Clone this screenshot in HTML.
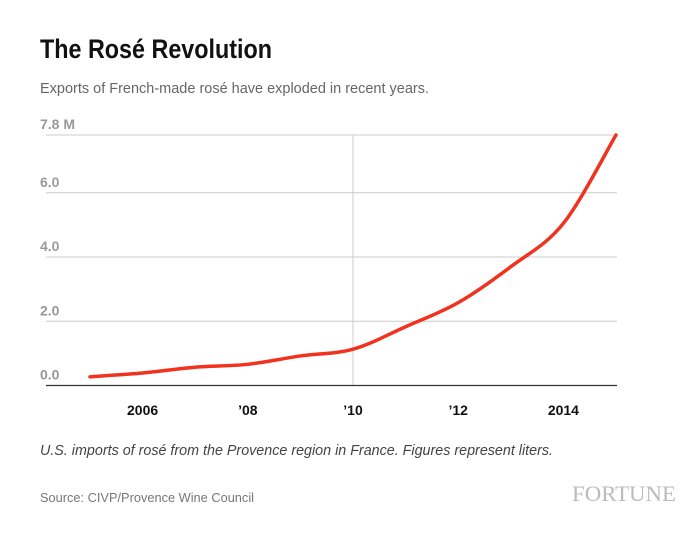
<!DOCTYPE html>
<html><head><meta charset="utf-8"><style>
html,body{margin:0;padding:0;background:#fff;}
svg{display:block;font-family:"Liberation Sans",sans-serif;}
</style></head><body>
<svg id="chart" width="700" height="536" viewBox="0 0 700 536">
<text x="40" y="58" font-size="27" font-weight="bold" fill="#111" textLength="232" lengthAdjust="spacingAndGlyphs" font-family="'Liberation Sans Narrow','Liberation Sans',sans-serif">The Rosé Revolution</text>
<text x="40" y="93" font-size="14.5" fill="#666" textLength="389" lengthAdjust="spacingAndGlyphs">Exports of French-made rosé have exploded in recent years.</text>
<g id="grid"></g>
<g id="yaxis"></g>
<g id="xaxis"></g>
<path id="line" fill="none" stroke="#f0321e" stroke-width="3.5" stroke-linecap="round"/>
<text x="40" y="455" font-size="14.5" font-style="italic" fill="#444" textLength="513" lengthAdjust="spacingAndGlyphs">U.S. imports of rosé from the Provence region in France. Figures represent liters.</text>
<text x="40" y="502" font-size="13" fill="#777" textLength="214" lengthAdjust="spacingAndGlyphs">Source: CIVP/Provence Wine Council</text>
<text x="572" y="501" font-size="22" fill="#bbb" textLength="104" lengthAdjust="spacingAndGlyphs" font-family="'Liberation Serif',serif">FORTUNE</text>
</svg>
<script>
const years = [2005,2006,2007,2008,2009,2010,2011,2012,2013,2014,2015];
const values = [0.27,0.39,0.57,0.66,0.92,1.13,1.83,2.58,3.7,5.05,7.8];
const yTicks = [0,2,4,6,7.8];
const yTickLabels = ["0.0","2.0","4.0","6.0","7.8 M"];
const xTicks = [2006,2008,2010,2012,2014];
const xTickLabels = ["2006","’08","’10","’12","2014"];
const NS="http://www.w3.org/2000/svg";
const X0=46,X1=617,Y0=385.5,Y1=135;
function xs(y){return 90+(y-2005)*(616-90)/10;}
function ys(v){return Y0-(v/7.8)*(Y0-Y1);}
function mk(tag,attrs,parent){const e=document.createElementNS(NS,tag);for(const k in attrs)e.setAttribute(k,attrs[k]);parent.appendChild(e);return e;}
const grid=document.getElementById('grid'),ya=document.getElementById('yaxis'),xa=document.getElementById('xaxis');
yTicks.forEach((t,i)=>{
  if(t>0){const l=mk('line',{x1:X0,x2:X1,y1:ys(t),y2:ys(t),stroke:'#ccc','stroke-width':1},grid);
  
  }
  const tx=mk('text',{x:40,y:ys(t)-6,'font-size':14,'font-weight':'bold',fill:'#999'},ya);
  tx.textContent=yTickLabels[i];
  
  
});
const vl=mk('line',{x1:xs(2010),x2:xs(2010),y1:Y1,y2:Y0,stroke:'#ccc','stroke-width':1},grid);


const base=mk('line',{x1:X0,x2:X1,y1:Y0,y2:Y0,stroke:'#333','stroke-width':1.3},xa);


xTicks.forEach((t,i)=>{
  const tx=mk('text',{x:xs(t),y:415,'font-size':14,'font-weight':'bold',fill:'#111','text-anchor':'middle'},xa);
  tx.textContent=xTickLabels[i];
  
  
});
const P=years.map((y,i)=>[xs(y),ys(values[i])]);
let d='M'+P[0][0]+','+P[0][1];
for(let i=0;i<P.length-1;i++){
  const p0=P[Math.max(0,i-1)],p1=P[i],p2=P[i+1],p3=P[Math.min(P.length-1,i+2)];
  const c1=[p1[0]+(p2[0]-p0[0])/6,p1[1]+(p2[1]-p0[1])/6];
  const c2=[p2[0]-(p3[0]-p1[0])/6,p2[1]-(p3[1]-p1[1])/6];
  d+=' C'+c1+' '+c2+' '+p2;
}
document.getElementById('line').setAttribute('d',d);
</script>
</body></html>
